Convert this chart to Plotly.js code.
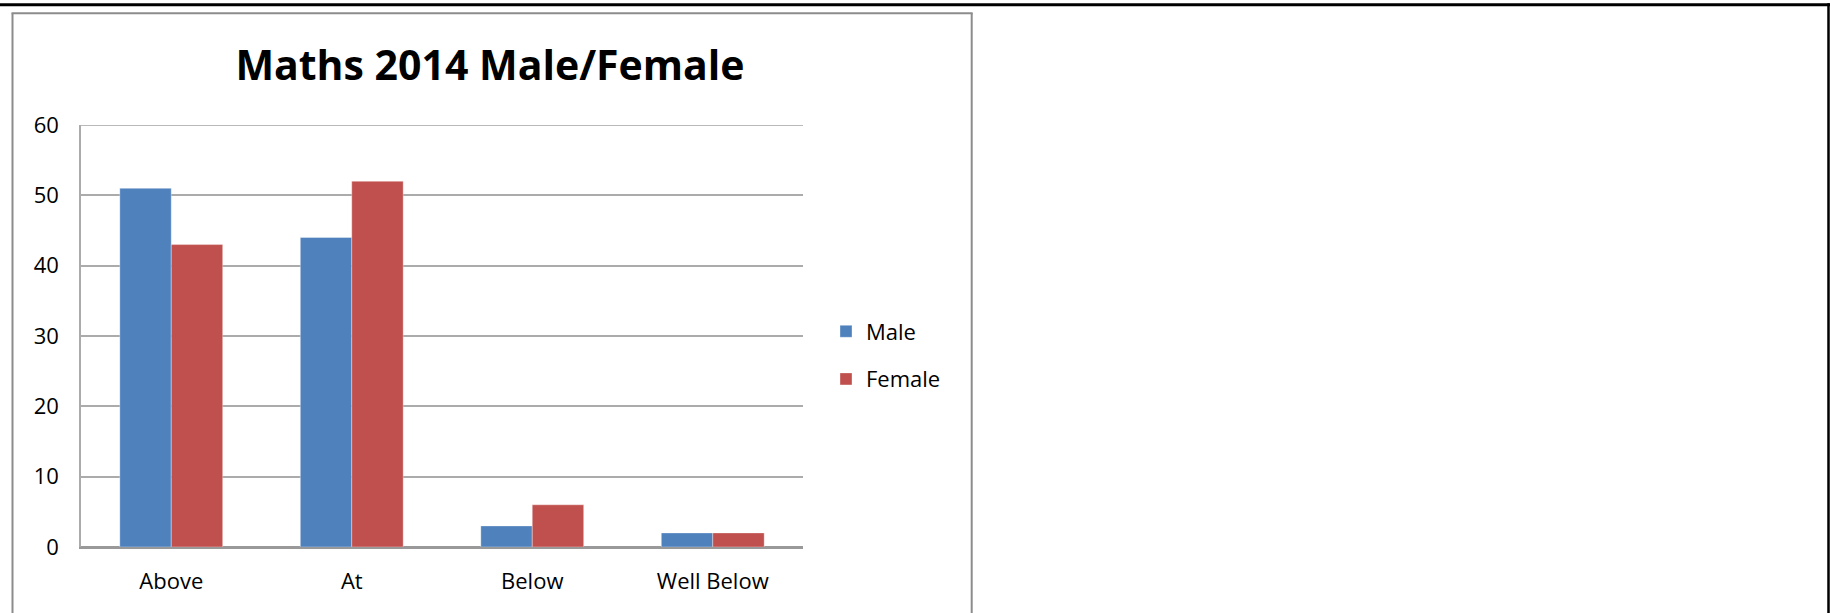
<!DOCTYPE html>
<html>
<head>
<meta charset="utf-8">
<script src="https://cdn.plot.ly/plotly-3.0.1.min.js"></script>
<style>
  html, body { margin: 0; padding: 0; background: #ffffff; }
  #chart { width: 1830px; height: 613px; }
</style>
</head>
<body>
<div id="chart"></div>
<script>
// Maths results 2014, by attainment band and gender
const categories = ["Above", "At", "Below", "Well Below"];
const maleValues = [51, 44, 3, 2];
const femaleValues = [43, 52, 6, 2];
const yTickValues = [0, 10, 20, 30, 40, 50, 60];

// plot area in page pixels, used to place frame lines in paper units
const W = 1830, H = 613;
const L = 81, R = 803, T = 125, B = 547;
const px = v => (v - L) / (R - L);
const py = v => (B - v) / (B - T);

const font = "'Open Sans', Lato, 'DejaVu Sans', sans-serif";

const traces = [
  {
    type: "bar", name: "Male", x: categories, y: maleValues,
    legendgroup: "m",
    marker: { color: "#4F81BD", line: { color: "rgba(255,255,255,0.35)", width: 1 } },
    hoverinfo: "x+y+name"
  },
  {
    type: "bar", name: "Female", x: categories, y: femaleValues,
    legendgroup: "f",
    marker: { color: "#C0504D", line: { color: "rgba(255,255,255,0.35)", width: 1 } },
    hoverinfo: "x+y+name"
  }
];

const layout = {
  width: W, height: H,
  margin: { l: L, r: W - R, t: T, b: H - B, pad: 0 },
  paper_bgcolor: "#ffffff",
  plot_bgcolor: "#ffffff",
  barmode: "group",
  bargap: 0.43,
  bargroupgap: 0,
  font: { family: font, color: "#000000", size: 22 },
  title: {
    text: "<b>Maths 2014 Male/Female</b>",
    font: { family: font, size: 41, color: "#000000" },
    xref: "container", yref: "container",
    x: 490 / W, xanchor: "center",
    y: 1 - 66 / H, yanchor: "middle"
  },
  xaxis: {
    type: "category",
    showgrid: false,
    showline: true, linecolor: "#999999", linewidth: 1.5,
    ticks: "",
    ticklabelstandoff: 14,
    tickfont: { family: font, size: 22, color: "#000000" },
    fixedrange: true
  },
  yaxis: {
    range: [0, 60],
    tickvals: yTickValues,
    showgrid: true, gridcolor: "#ababab", gridwidth: 1.5,
    zeroline: true, zerolinecolor: "#999999", zerolinewidth: 1.5,
    showline: true, linecolor: "#ababab", linewidth: 1.5,
    ticks: "",
    ticklabelstandoff: 16,
    tickfont: { family: font, size: 22, color: "#000000" },
    fixedrange: true
  },
  showlegend: true,
  legend: {
    x: px(826), xanchor: "left",
    y: py(310.5), yanchor: "top",
    bgcolor: "rgba(0,0,0,0)",
    font: { family: font, size: 22, color: "#000000" },
    traceorder: "grouped",
    tracegroupgap: 16,
    itemclick: false, itemdoubleclick: false
  },
  shapes: [
    // top gridline at the end of the value range
    { type: "line", xref: "paper", yref: "y", x0: 0, x1: 1, y0: 60, y1: 60,
      line: { color: "#a3a3a3", width: 1.5 }, layer: "below" },
    // grey chart frame (open at the bottom of the page)
    { type: "line", xref: "paper", yref: "paper", x0: px(12.5), x1: px(12.5), y0: py(13.3), y1: py(640),
      line: { color: "#8c8c8c", width: 2 } },
    { type: "line", xref: "paper", yref: "paper", x0: px(11.5), x1: px(972.7), y0: py(13.3), y1: py(13.3),
      line: { color: "#8c8c8c", width: 2 } },
    { type: "line", xref: "paper", yref: "paper", x0: px(971.7), x1: px(971.7), y0: py(13.3), y1: py(640),
      line: { color: "#8c8c8c", width: 2 } },
    // black page rule along the top and right edge
    { type: "line", xref: "paper", yref: "paper", x0: px(-5), x1: px(1830), y0: py(4.7), y1: py(4.7),
      line: { color: "#000000", width: 3 } },
    { type: "line", xref: "paper", yref: "paper", x0: px(1828.5), x1: px(1828.5), y0: py(3.2), y1: py(640),
      line: { color: "#000000", width: 2.5 } }
  ]
};

Plotly.newPlot("chart", traces, layout, { displayModeBar: false, responsive: false });
</script>
</body>
</html>
